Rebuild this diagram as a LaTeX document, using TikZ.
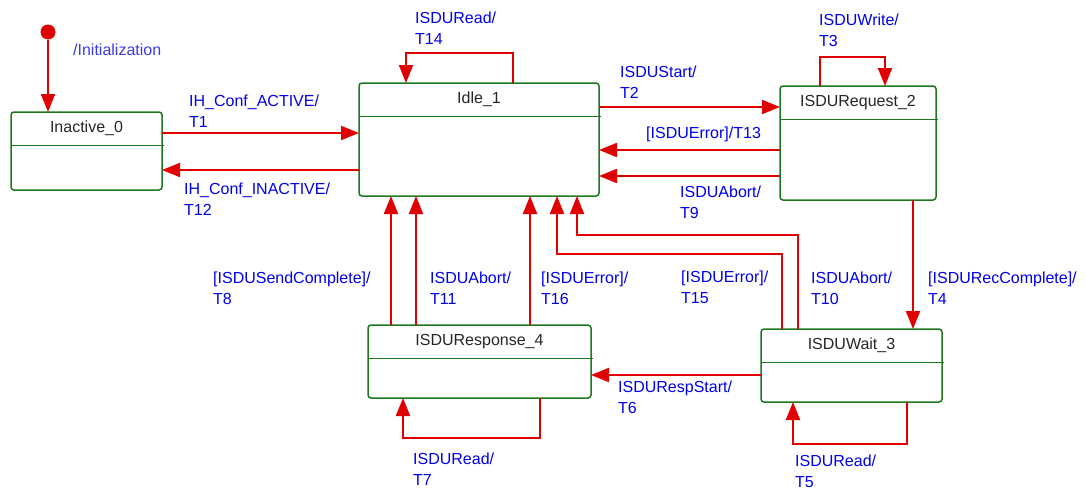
\documentclass[tikz,border=0pt]{standalone}
\usepackage{fontspec}
\setmainfont{Liberation Sans}
\usetikzlibrary{arrows.meta,calc}
\definecolor{arrred}{RGB}{225,0,0}
\definecolor{stgreen}{RGB}{30,120,30}
\definecolor{lblblue}{RGB}{0,0,235}
\definecolor{initblue}{RGB}{60,60,230}
\begin{document}
\begin{tikzpicture}[x=1pt,y=-1pt,
  state/.style={draw=stgreen,line width=1.5pt,rounded corners=3pt,inner sep=0pt,outer sep=0pt},
  divider/.style={draw=stgreen,line width=1.5pt},
  title/.style={font=\fontsize{16}{19}\selectfont,text=black!85,inner sep=0pt},
  arr/.style={draw=arrred,line width=2pt,-{Triangle[length=18pt,width=14pt]}},
  lbl/.style={font=\fontsize{16}{21}\selectfont,text=lblblue,align=left,anchor=north west,inner sep=0pt},
  initdot/.style={circle,fill=arrred,inner sep=0pt,minimum size=15pt}]
\fill[white] (0,0) rectangle (1086,490);
\useasboundingbox (0,0) rectangle (1086,490);

% states
\node[state,minimum width=151pt,minimum height=78pt] (inactive) at (86.5,151) {};
\node[state,minimum width=240pt,minimum height=113pt] (idle) at (479,139.5) {};
\node[state,minimum width=156pt,minimum height=114pt] (req) at (858,143) {};
\node[state,minimum width=223pt,minimum height=73pt] (resp) at (479.5,361.5) {};
\node[state,minimum width=181pt,minimum height=73pt] (wait) at (851.5,365.5) {};

\foreach \s/\t in {inactive/Inactive\_0,idle/Idle\_1,req/ISDURequest\_2,resp/ISDUResponse\_4,wait/ISDUWait\_3}{
  \node[title] (\s-title) at ($(\s.north)+(0,16.5)$) {\t};
  \draw[divider] ($(\s.north west)+(0,33.5)$) -- ($(\s.north east)+(2,33.5)$);
}

% initial
\node[initdot] (init) at (48,32) {};
\draw[arr] (init) -- (init |- inactive.north);
\node[lbl,text=initblue] (l-init) at (73,44) {/Initialization};

% T1 / T12
\draw[arr] ($(inactive.north east)+(0,21)$) coordinate (t1s) -- (t1s -| idle.west);
\node[lbl] (l-t1) at (189,95) {IH\_Conf\_ACTIVE/\\T1};
\draw[arr] ($(idle.north west)+(0,87)$) coordinate (t12s) -- (t12s -| inactive.east);
\node[lbl] (l-t12) at (184,183) {IH\_Conf\_INACTIVE/\\T12};

% T14 self loop
\draw[arr] ($(idle.north west)+(154,0)$) -- ++(0,-30) -| ($(idle.north west)+(47,0)$);
\node[lbl] (l-t14) at (415,12) {ISDURead/\\T14};

% T2, T13, T9
\draw[arr] ($(idle.north east)+(0,24)$) coordinate (t2s) -- (t2s -| req.west);
\node[lbl] (l-t2) at (620,66) {ISDUStart/\\T2};
\draw[arr] ($(req.north west)+(0,64)$) coordinate (t13s) -- (t13s -| idle.east);
\node[lbl] (l-t13) at (646,127) {[ISDUError]/T13};
\draw[arr] ($(req.north west)+(0,90)$) coordinate (t9s) -- (t9s -| idle.east);
\node[lbl] (l-t9) at (680,186) {ISDUAbort/\\T9};

% T3 self loop
\draw[arr] ($(req.north west)+(40,0)$) -- ++(0,-29) -| ($(req.north west)+(105,0)$);
\node[lbl] (l-t3) at (819,14) {ISDUWrite/\\T3};

% T4
\draw[arr] ($(req.south west)+(133,0)$) coordinate (t4s) -- (t4s |- wait.north);
\node[lbl] (l-t4) at (928,272) {[ISDURecComplete]/\\T4};

% T8, T11, T16
\draw[arr] ($(resp.north west)+(23,0)$) coordinate (t8s) -- (t8s |- idle.south);
\node[lbl] (l-t8) at (213,272) {[ISDUSendComplete]/\\T8};
\draw[arr] ($(resp.north west)+(48,0)$) coordinate (t11s) -- (t11s |- idle.south);
\node[lbl] (l-t11) at (430,272) {ISDUAbort/\\T11};
\draw[arr] ($(resp.north west)+(162,0)$) coordinate (t16s) -- (t16s |- idle.south);
\node[lbl] (l-t16) at (541,272) {[ISDUError]/\\T16};

% T15, T10
\draw[arr] ($(wait.north west)+(21,0)$) -- ++(0,-75) -| ($(idle.south west)+(198,0)$);
\node[lbl] (l-t15) at (681,271) {[ISDUError]/\\T15};
\draw[arr] ($(wait.north west)+(37,0)$) -- ++(0,-94) -| ($(idle.south west)+(218,0)$);
\node[lbl] (l-t10) at (811,272) {ISDUAbort/\\T10};

% T6
\draw[arr] ($(wait.north west)+(0,46)$) coordinate (t6s) -- (t6s -| resp.east);
\node[lbl] (l-t6) at (618,381) {ISDURespStart/\\T6};

% T7 self loop
\draw[arr] ($(resp.south west)+(172,0)$) -- ++(0,40) -| ($(resp.south west)+(35,0)$);
\node[lbl] (l-t7) at (413,453) {ISDURead/\\T7};

% T5 self loop
\draw[arr] ($(wait.south west)+(146,0)$) -- ++(0,42) -| ($(wait.south west)+(32,0)$);
\node[lbl] (l-t5) at (795,455) {ISDURead/\\T5};
\end{tikzpicture}
\end{document}
